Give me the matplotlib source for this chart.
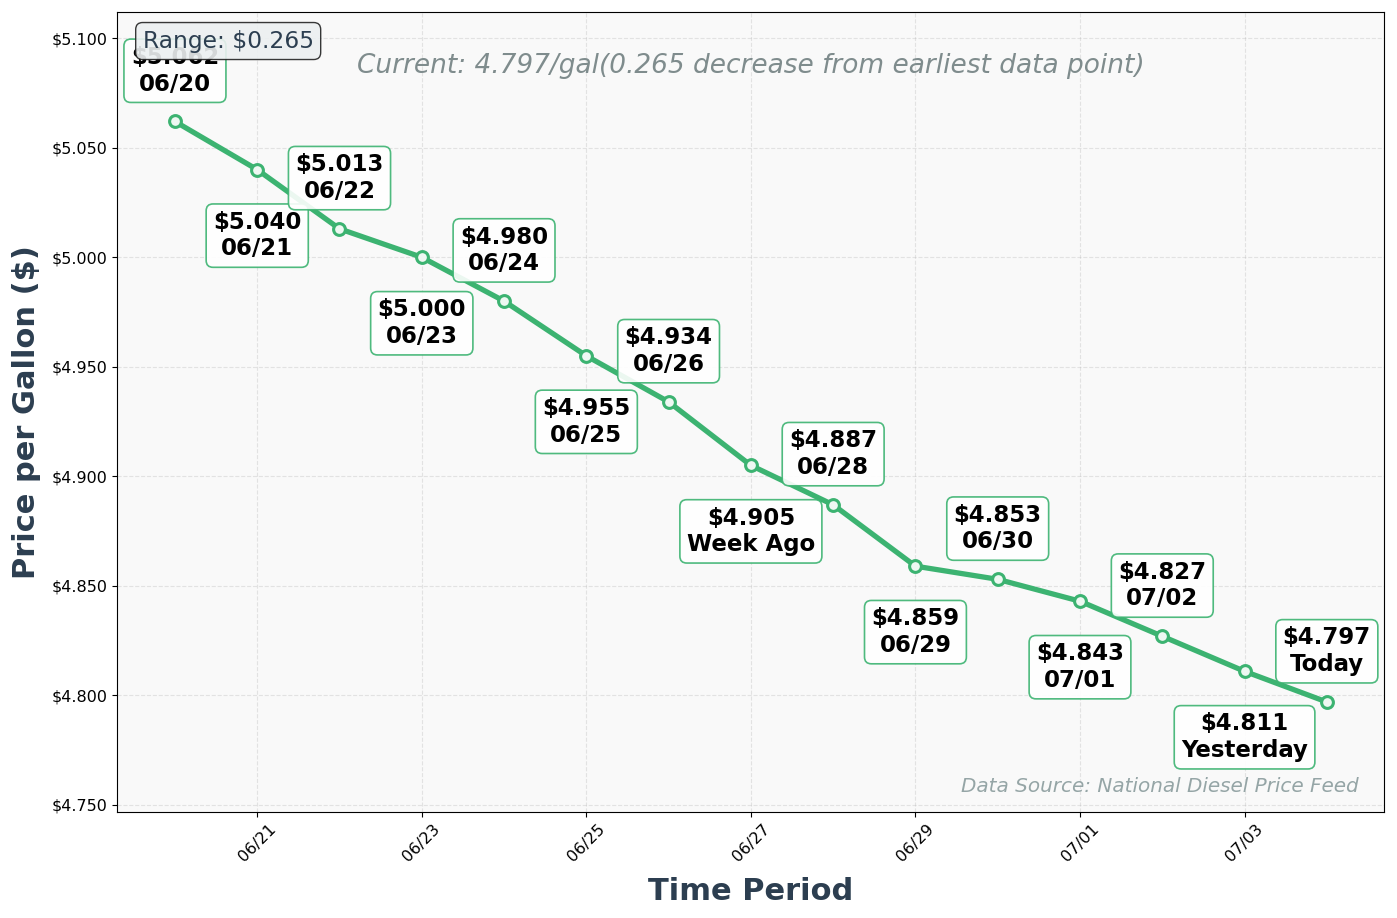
import numpy as np
import pandas as pd
import matplotlib
matplotlib.use('Agg')
import matplotlib.pyplot as plt
import matplotlib.dates as mdates
from matplotlib.ticker import FuncFormatter

# diesel prices, one per day
dates = pd.date_range('2024-06-20', '2024-07-04', freq='D')
prices = [5.062, 5.040, 5.013, 5.000, 4.980, 4.955, 4.934, 4.905,
          4.887, 4.859, 4.853, 4.843, 4.827, 4.811, 4.797]
labels = ['06/20', '06/21', '06/22', '06/23', '06/24', '06/25', '06/26', 'Week Ago',
          '06/28', '06/29', '06/30', '07/01', '07/02', 'Yesterday', 'Today']

green = '#3cb371'
dark = '#2c3e50'

fig, ax = plt.subplots(figsize=(13.97, 9.18), dpi=100)
fig.subplots_adjust(left=0.084, right=0.991, top=0.987, bottom=0.116)
ax.set_facecolor('#f9f9f9')

ax.plot(dates, prices, color=green, linewidth=3.8, marker='o', markersize=8.5,
        markerfacecolor='#eef8f2', markeredgecolor=green, markeredgewidth=2.2, zorder=3)

# labels alternate above / below the line
for i, (d, p, lab) in enumerate(zip(dates, prices, labels)):
    if i % 2 == 0:
        off = 36.5
    else:
        off = -47.5
    ax.annotate(f'${p:.3f}\n{lab}', xy=(d, p), xytext=(0, off), textcoords='offset points',
                ha='center', va='center', fontsize=16.5, fontweight='bold', color='black',
                bbox=dict(boxstyle='round,pad=0.3', facecolor='white', edgecolor=green,
                          alpha=0.9, linewidth=1.2), zorder=4)

ax.set_ylim(min(prices) - 0.05, max(prices) + 0.05)
ax.set_yticks(np.arange(4.75, 5.101, 0.05))
ax.yaxis.set_major_formatter(FuncFormatter(lambda v, pos: f'${v:.3f}'))
ax.xaxis.set_major_locator(mdates.DayLocator(interval=2))
ax.xaxis.set_major_formatter(mdates.DateFormatter('%m/%d'))
plt.setp(ax.get_xticklabels(), rotation=45)
ax.tick_params(labelsize=11.5)

ax.grid(True, linestyle='--', alpha=0.3)
ax.set_axisbelow(True)

ax.set_xlabel('Time Period', fontsize=22, fontweight='bold', color=dark, labelpad=9)
ax.set_ylabel('Price per Gallon ($)', fontsize=22, fontweight='bold', color=dark, labelpad=8)

drop = prices[0] - prices[-1]
ax.text(0.5, 0.932, f'Current: {prices[-1]:.3f}/gal({drop:.3f} decrease from earliest data point)',
        transform=ax.transAxes, ha='center', va='center', fontsize=19, style='italic',
        color='#7f8c8d')
ax.text(0.02, 0.978, f'Range: ${max(prices) - min(prices):.3f}', transform=ax.transAxes,
        ha='left', va='top', fontsize=16.8, color=dark, zorder=5,
        bbox=dict(boxstyle='round,pad=0.3', facecolor='#ecf0f1', edgecolor='#222222', alpha=0.9))
ax.text(0.98, 0.02, 'Data Source: National Diesel Price Feed', transform=ax.transAxes,
        ha='right', va='bottom', fontsize=14.4, style='italic', color='#95a5a6')

plt.savefig('out.png', dpi=100)
